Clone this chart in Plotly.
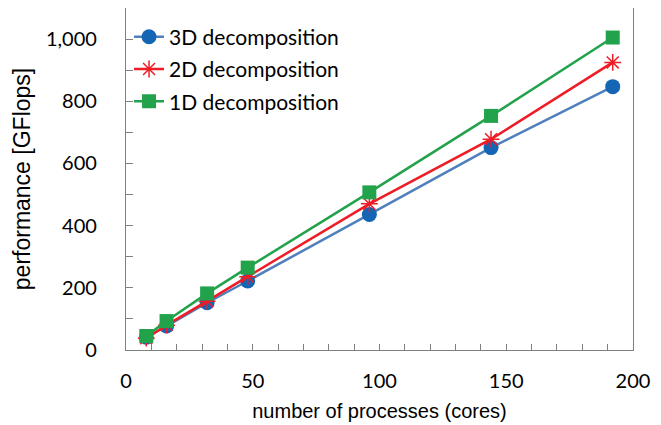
import plotly.graph_objects as go

cores = [8, 16, 32, 48, 96, 144, 192]
perf_3d = [41, 77, 152, 222, 436, 651, 847]
perf_2d = [38, 80, 157, 236, 470, 678, 925]
perf_1d = [45, 93, 182, 265, 507, 753, 1005]

series_names = ["3D decomposition", "2D decomposition", "1D decomposition"]

x_tick_vals = [0, 50, 100, 150, 200]
y_tick_vals = [0, 200, 400, 600, 800, 1000]
y_tick_text = ["0", "200", "400", "600", "800", "1,000"]

fig = go.Figure()
fig.add_trace(go.Scatter(
    x=cores, y=perf_3d, name=series_names[0], mode="lines+markers", legendgroup="a",
    line=dict(color="#4F7FBC", width=2.5),
    marker=dict(symbol="circle", size=15, color="#1466B4", line=dict(width=0)),
))
fig.add_trace(go.Scatter(
    x=cores, y=perf_2d, name=series_names[1], mode="lines+markers", legendgroup="b",
    line=dict(color="#EE1C25", width=2.5),
    marker=dict(symbol="asterisk-open", size=14, color="#EE1C25",
                line=dict(width=1.5, color="#EE1C25")),
))
fig.add_trace(go.Scatter(
    x=cores, y=perf_1d, name=series_names[2], mode="lines+markers", legendgroup="c",
    line=dict(color="#22A24B", width=2.5),
    marker=dict(symbol="square", size=14, color="#22A24B", line=dict(width=0)),
))

axis_line = "#808080"
# the page body has an 8px margin, so the figure is sized to fit the window
fig.update_layout(
    width=653, height=417,
    margin=dict(l=118, r=28, t=0, b=75, autoexpand=False),
    paper_bgcolor="white", plot_bgcolor="white",
    font=dict(family="Lato", size=19, color="#000000"),
    showlegend=True,
    legend=dict(x=0.006, y=0.975, xanchor="left", yanchor="top",
                bgcolor="rgba(0,0,0,0)", font=dict(family="Lato", size=21),
                itemwidth=30, tracegroupgap=2),
    xaxis=dict(
        range=[0, 200], tickvals=x_tick_vals,
        ticks="inside", ticklen=6, tickcolor=axis_line, tickwidth=1,
        minor=dict(dtick=10, tick0=0, ticks="inside", ticklen=6, tickcolor=axis_line, tickwidth=1),
        showline=True, linecolor=axis_line, linewidth=1.3, mirror=True,
        showgrid=False, zeroline=False,
        tickfont=dict(family="Lato", size=20),
        ticklabelstandoff=13,
        title=dict(text="number of processes (cores)",
                   font=dict(family="Liberation Sans", size=20), standoff=12),
    ),
    yaxis=dict(
        range=[0, 1100], tickvals=y_tick_vals, ticktext=y_tick_text,
        ticks="inside", ticklen=7, tickcolor=axis_line, tickwidth=1,
        minor=dict(dtick=100, tick0=0, ticks="inside", ticklen=7, tickcolor=axis_line, tickwidth=1),
        showline=True, linecolor=axis_line, linewidth=1.3, mirror=True,
        showgrid=False, zeroline=False,
        tickfont=dict(family="Lato", size=20),
        ticklabelstandoff=24,
        title=dict(text="performance [GFlops]",
                   font=dict(family="Liberation Sans", size=23), standoff=8),
    ),
)

fig.write_html("out.html")
